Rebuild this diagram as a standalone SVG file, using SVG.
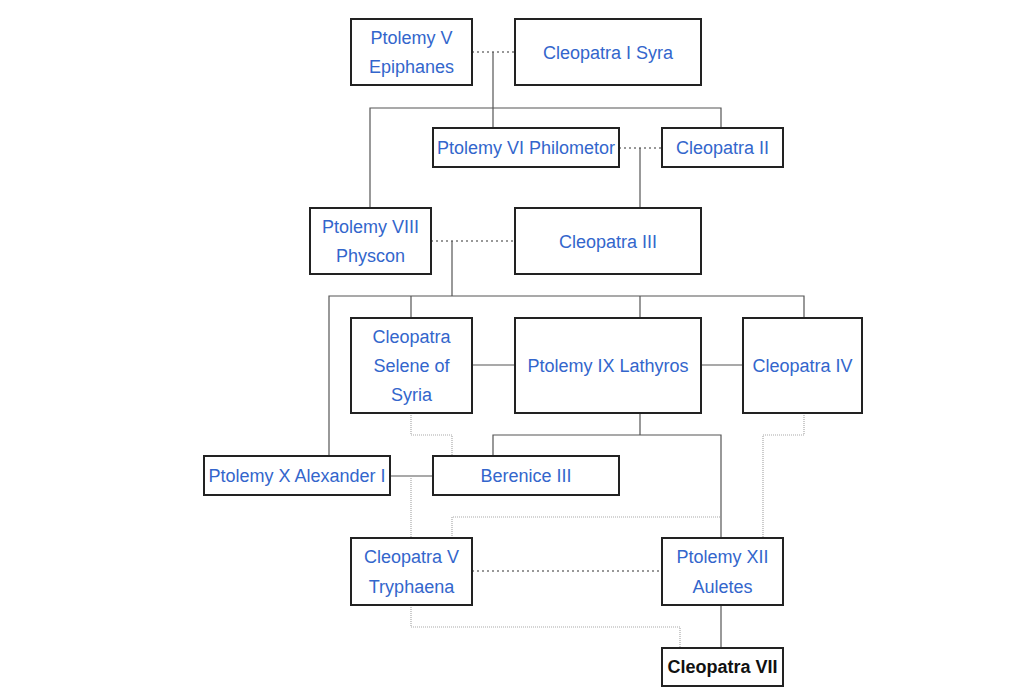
<svg xmlns="http://www.w3.org/2000/svg" width="1024" height="699" viewBox="0 0 1024 699">
<style>
.box{fill:#fff;stroke:#222;stroke-width:2}
.t{font-family:"Liberation Sans",Arial,sans-serif;font-size:18px;fill:#3366cc;text-anchor:middle}
.b{fill:#111;font-weight:bold}
.solid{fill:none;stroke:#555;stroke-width:1.2}
.marr{fill:none;stroke:#333;stroke-width:1.2;stroke-dasharray:2,3}
.gray{fill:none;stroke:#aaa;stroke-width:1.2;stroke-dasharray:1,1}
</style>
<rect width="1024" height="699" fill="#fff"/>
<g id="connectors">
<path class="marr" d="M472 52H515"/>
<path class="solid" d="M493 52V128"/>
<path class="solid" d="M370 208V108H721V128"/>
<path class="marr" d="M619 148H662"/>
<path class="solid" d="M640 148V208"/>
<path class="marr" d="M431 241H515"/>
<path class="solid" d="M452 241V296"/>
<path class="solid" d="M329 456V296H804V318M411 296V318M640 296V318"/>
<path class="solid" d="M472 365H515M701 365H743"/>
<path class="solid" d="M640 413V435M493 456V435H721V538"/>
<path class="gray" d="M411 413V435H452V456"/>
<path class="gray" d="M804 413V435H763V538"/>
<path class="solid" d="M390 476H433"/>
<path class="gray" d="M411 476V538"/>
<path class="gray" d="M452 538V517H721"/>
<path class="marr" d="M472 571H662"/>
<path class="solid" d="M721 605V648"/>
<path class="gray" d="M411 605V627H680V648"/>
</g>
<g id="ptolemy5"><rect class="box" x="351" y="19" width="121" height="66"/><text class="t" x="411.5" y="44">Ptolemy V</text><text class="t" x="411.5" y="73">Epiphanes</text></g>
<g id="cleopatra1"><rect class="box" x="515" y="19" width="186" height="66"/><text class="t" x="608" y="58.5">Cleopatra I Syra</text></g>
<g id="ptolemy6"><rect class="box" x="433" y="128" width="186" height="39"/><text class="t" x="526" y="154">Ptolemy VI Philometor</text></g>
<g id="cleopatra2"><rect class="box" x="662" y="128" width="121" height="39"/><text class="t" x="722.5" y="154">Cleopatra II</text></g>
<g id="ptolemy8"><rect class="box" x="310" y="208" width="121" height="66"/><text class="t" x="370.5" y="233">Ptolemy VIII</text><text class="t" x="370.5" y="262">Physcon</text></g>
<g id="cleopatra3"><rect class="box" x="515" y="208" width="186" height="66"/><text class="t" x="608" y="247.5">Cleopatra III</text></g>
<g id="selene"><rect class="box" x="351" y="318" width="121" height="95"/><text class="t" x="411.5" y="343">Cleopatra</text><text class="t" x="411.5" y="371.5">Selene of</text><text class="t" x="411.5" y="401">Syria</text></g>
<g id="ptolemy9"><rect class="box" x="515" y="318" width="186" height="95"/><text class="t" x="608" y="371.5">Ptolemy IX Lathyros</text></g>
<g id="cleopatra4"><rect class="box" x="743" y="318" width="119" height="95"/><text class="t" x="802.5" y="371.5">Cleopatra IV</text></g>
<g id="ptolemy10"><rect class="box" x="204" y="456" width="186" height="39"/><text class="t" x="297" y="482">Ptolemy X Alexander I</text></g>
<g id="berenice3"><rect class="box" x="433" y="456" width="186" height="39"/><text class="t" x="526" y="482">Berenice III</text></g>
<g id="cleopatra5"><rect class="box" x="351" y="538" width="121" height="67"/><text class="t" x="411.5" y="563">Cleopatra V</text><text class="t" x="411.5" y="593">Tryphaena</text></g>
<g id="ptolemy12"><rect class="box" x="662" y="538" width="121" height="67"/><text class="t" x="722.5" y="563">Ptolemy XII</text><text class="t" x="722.5" y="593">Auletes</text></g>
<g id="cleopatra7"><rect class="box" x="662" y="648" width="121" height="38"/><text class="t b" x="722.5" y="673">Cleopatra VII</text></g>
</svg>
